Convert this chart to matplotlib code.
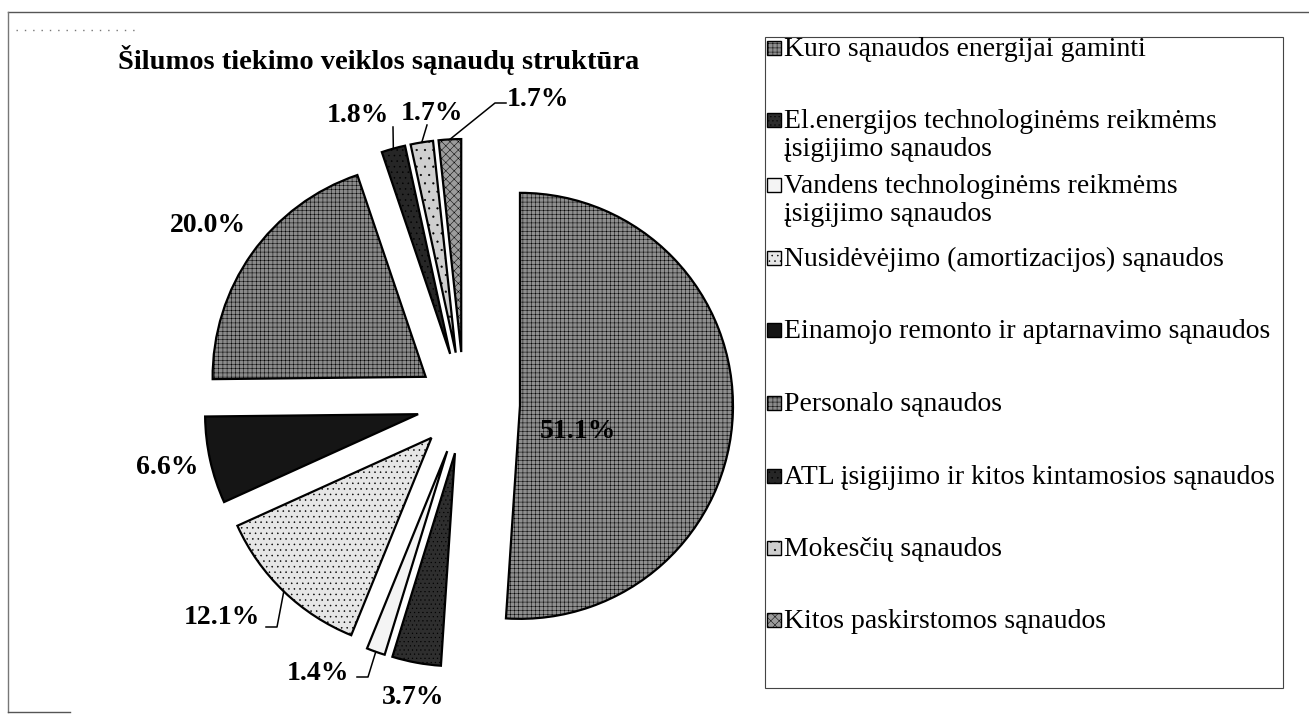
import numpy as np
import matplotlib
matplotlib.use("Agg")
import matplotlib.pyplot as plt
from matplotlib.patches import Rectangle

# Šilumos tiekimo veiklos sąnaudų struktūra, %
categories = [
    "Kuro sąnaudos energijai gaminti",
    "El.energijos technologinėms reikmėms\nįsigijimo sąnaudos",
    "Vandens technologinėms reikmėms\nįsigijimo sąnaudos",
    "Nusidėvėjimo (amortizacijos) sąnaudos",
    "Einamojo remonto ir aptarnavimo sąnaudos",
    "Personalo sąnaudos",
    "ATL įsigijimo ir kitos kintamosios sąnaudos",
    "Mokesčių sąnaudos",
    "Kitos paskirstomos sąnaudos",
]
values = [51.1, 3.7, 1.4, 12.1, 6.6, 20.0, 1.8, 1.7, 1.7]
title = "Šilumos tiekimo veiklos sąnaudų struktūra"

# styles
colors = ["#8e8e8e", "#2e2e2e", "#f4f4f4", "#e6e6e6", "#151515",
          "#8a8a8a", "#262626", "#cfcfcf", "#9c9c9c"]
hatches = ["++++", "....", "", "...", "", "++++", "...", "..", "xxxx"]
explode = [56, 50, 50, 47, 47, 47, 52, 52, 52]  # px

W, H = 1309, 722
plt.rcParams["hatch.linewidth"] = 0.35
serif = ["Liberation Serif", "DejaVu Serif"]

fig = plt.figure(figsize=(W / 100, H / 100), dpi=100)
ax = fig.add_axes([0, 0, 1, 1])


def Y(y):
    # image row -> axes y
    return H - y


wedges, _ = ax.pie(
    values, explode=explode, colors=colors, hatch=hatches,
    center=(464, Y(404)), radius=213, startangle=90, counterclock=False,
    wedgeprops=dict(edgecolor="black", linewidth=1.6),
)
ax.set_xlim(0, W)
ax.set_ylim(0, H)
ax.set_aspect("auto")
ax.axis("off")

# percent labels (image px positions)
label_pos = [(578, 432), (413, 697), (318, 673), (222, 618), (167, 468),
             (208, 226), (358, 116), (432, 113), (538, 100)]
for v, (lx, ly) in zip(values, label_pos):
    ax.text(lx, Y(ly), f"{v:.1f}%", ha="center", va="center",
            fontsize=20, fontweight="bold", family=serif)

# leader lines: wedge index -> intermediate points near the label
leaders = {
    3: [(277, 627), (266, 627)],
    2: [(368, 677), (357, 677)],
    6: [(393, 127)],
    7: [(427, 125)],
    8: [(495, 103), (506, 103)],
}
for i, pts in leaders.items():
    w = wedges[i]
    mid = np.deg2rad((w.theta1 + w.theta2) / 2)
    ax_, ay_ = w.center[0] + w.r * np.cos(mid), w.center[1] + w.r * np.sin(mid)
    xs = [ax_] + [p[0] for p in pts]
    ys = [ay_] + [Y(p[1]) for p in pts]
    ax.plot(xs, ys, color="black", lw=1.1)

# title
ax.text(379, Y(60), title, ha="center", va="center", fontsize=20.5,
        fontweight="bold", family=serif)

# legend box
ax.add_patch(Rectangle((765, Y(688)), 518, 651, fill=False,
                       edgecolor="#444444", lw=0.8))
legend_y = [48, 120, 185, 258, 330, 403, 476, 548, 620]
line_gap = 28
for lab, c, h, ly in zip(categories, colors, hatches, legend_y):
    ax.add_patch(Rectangle((767, Y(ly) - 7), 14, 14, facecolor=c,
                           hatch=h, edgecolor="black", lw=1.0))
    for k, part in enumerate(lab.split("\n")):
        ax.text(784, Y(ly + 8 + k * line_gap), part, ha="left",
                va="baseline", fontsize=20, family=serif)

# scanned page frame
ax.plot([8, W], [Y(12), Y(12)], color="#555555", lw=1.0)
ax.plot([8, 8], [Y(12), Y(712)], color="#777777", lw=1.0)
ax.plot([8, 70], [Y(712), Y(712)], color="#555555", lw=1.0)
ax.plot([16, 140], [Y(30), Y(30)], color="#777777", lw=1.0,
        linestyle=(0, (1, 5)))

fig.savefig("out.png", dpi=100, facecolor="white")
